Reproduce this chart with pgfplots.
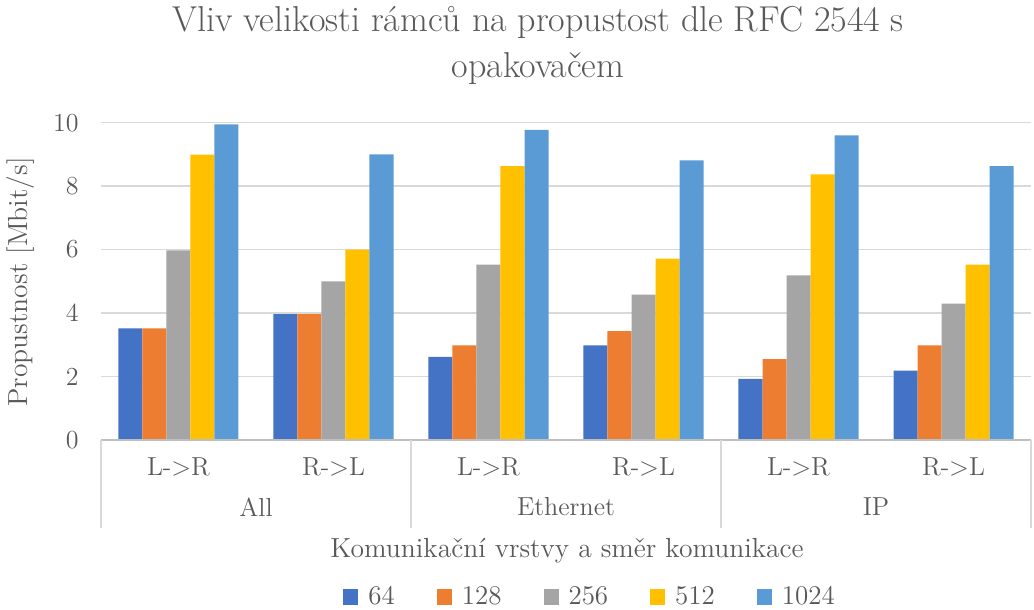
\documentclass[border=0pt]{standalone}
\usepackage{fontspec}
\usepackage{pgfplots}
\pgfplotsset{compat=1.18}
\definecolor{c64}{HTML}{4472C4}
\definecolor{c128}{HTML}{ED7D31}
\definecolor{c256}{HTML}{A5A5A5}
\definecolor{c512}{HTML}{FFC000}
\definecolor{c1024}{HTML}{5B9BD5}
\definecolor{txt}{HTML}{595959}
\definecolor{grd}{HTML}{D9D9D9}
\definecolor{axl}{HTML}{BFBFBF}
\begin{document}
\begin{tikzpicture}[font=\fontsize{13}{15}\selectfont\addfontfeatures{LetterSpace=7}]
\begin{axis}[
  scale only axis, width=465pt, height=158.65pt,
  at={(0pt,0pt)}, anchor=south west,
  ybar=0pt, bar width=12pt,
  xmin=-0.5, xmax=5.5, ymin=0, ymax=10,
  xtick={0,...,5},
  xticklabels={L->R,R->L,L->R,R->L,L->R,R->L},
  ytick={0,2,...,10},
  axis line style={draw=none},
  tick style={draw=none},
  ymajorgrids, grid style={grd, line width=0.75pt},
  /pgf/number format/assume math mode=true,
  yticklabel style={anchor=east, inner sep=0pt, xshift=-11pt, text=txt},
  xticklabel style={inner sep=0pt, yshift=-4.5pt, text=txt},
  clip=false,
  legend columns=5,
  legend style={at={(axis description cs:0.527,-0.495)}, anchor=center, draw=none, fill=none,
    text=txt, font=\fontsize{13.5}{15}\selectfont\addfontfeatures{LetterSpace=8},
    /tikz/every odd column/.append style={column sep=3pt},
    /tikz/every even column/.append style={column sep=19pt}},
  legend image code/.code={\fill[#1] (0pt,-3.8pt) rectangle (7.5pt,3.8pt);},
]
\addplot[fill=c64, draw=none] coordinates {(0,3.52) (1,3.97) (2,2.62) (3,2.98) (4,1.93) (5,2.19)};
\addplot[fill=c128, draw=none] coordinates {(0,3.52) (1,3.97) (2,2.98) (3,3.43) (4,2.55) (5,2.98)};
\addplot[fill=c256, draw=none] coordinates {(0,5.98) (1,5.00) (2,5.53) (3,4.58) (4,5.19) (5,4.30)};
\addplot[fill=c512, draw=none] coordinates {(0,8.99) (1,6.00) (2,8.63) (3,5.72) (4,8.37) (5,5.53)};
\addplot[fill=c1024, draw=none] coordinates {(0,9.95) (1,9.00) (2,9.77) (3,8.81) (4,9.60) (5,8.63)};
\legend{64,128,256,512,1024}
\draw[axl, line width=0.75pt] (axis cs:-0.5,0) -- (axis cs:5.5,0);
\draw[grd, line width=0.75pt] (axis cs:-0.5,0) -- ([yshift=-44pt]axis cs:-0.5,0);
\draw[grd, line width=0.75pt] (axis cs:1.5,0) -- ([yshift=-44pt]axis cs:1.5,0);
\draw[grd, line width=0.75pt] (axis cs:3.5,0) -- ([yshift=-44pt]axis cs:3.5,0);
\draw[grd, line width=0.75pt] (axis cs:5.5,0) -- ([yshift=-44pt]axis cs:5.5,0);
\node[text=txt] at ([yshift=-33.5pt]axis cs:0.5,0) {All};
\node[text=txt] at ([yshift=-33.5pt]axis cs:2.5,0) {Ethernet};
\node[text=txt] at ([yshift=-33.5pt]axis cs:4.5,0) {IP};
\end{axis}
\node[text=txt, rotate=90, font=\fontsize{13.8}{15}\selectfont\addfontfeatures{LetterSpace=7}] at (-40pt,79pt) {Propustnost [Mbit/s]};
\node[text=txt, font=\fontsize{13.8}{15}\selectfont\addfontfeatures{LetterSpace=7}] at (233pt,-55.5pt) {Komunikační vrstvy a směr komunikace};
\node[text=txt, anchor=base, font=\fontsize{18}{21}\selectfont\addfontfeatures{LetterSpace=3}] at (218.5pt,204pt) {Vliv velikosti rámců na propustost dle RFC 2544 s};
\node[text=txt, anchor=base, font=\fontsize{18}{21}\selectfont\addfontfeatures{LetterSpace=3}] at (218.5pt,181pt) {opakovačem};
\pgfresetboundingbox
\path (-50.5pt,-85pt) rectangle (466.5pt,220pt);
\end{tikzpicture}
\end{document}
